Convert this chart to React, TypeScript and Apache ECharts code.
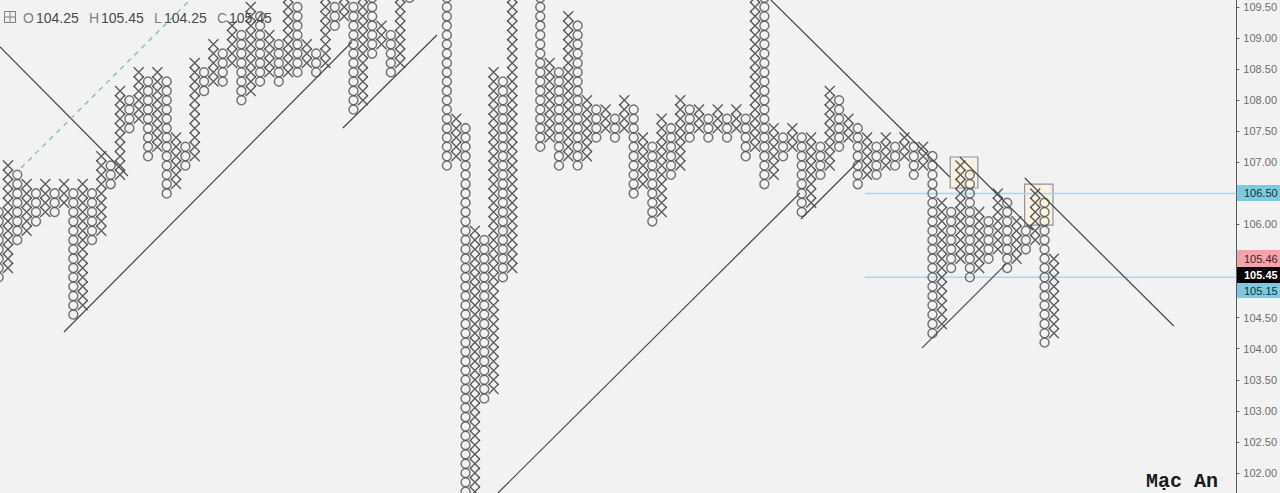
import React, { useEffect, useRef } from "react";
import * as echarts from "echarts";

// Point & figure chart: box size 0.15. Columns alternate O, X, O, X ...
// Each column has a high box and a low box; 0 marks columns wholly above the visible range.
const BOX = 0.15;
const firstColumn = -2;
const columnKinds = ["O", "X"];
const columnHighs = [
  106.2, 106.95, 106.8, 106.65, 106.5, 106.65, 106.5, 106.65, 106.5, 106.65,
  106.5, 107.1, 106.95, 108.15, 108.0, 108.45, 108.3, 108.45, 108.3, 107.4,
  107.25, 108.6, 108.45, 108.9, 108.75, 109.2, 109.05, 109.5, 109.35, 109.05,
  108.9, 110.1, 109.5, 108.9, 108.75, 110.1, 109.5, 110.1, 109.5, 110.1,
  110.1, 109.2, 109.05, 110.1, 110.1, 0, 0, 0, 110.1, 107.7,
  107.55, 105.9, 105.75, 108.45, 108.3, 110.1, 0, 0, 110.1, 108.6,
  108.45, 109.35, 109.2, 108.0, 107.85, 107.85, 107.7, 108.0, 107.85, 107.4,
  107.25, 107.7, 107.55, 108.0, 107.85, 107.85, 107.7, 107.85, 107.7, 107.85,
  107.7, 110.1, 110.1, 107.55, 107.4, 107.55, 107.4, 107.4, 107.25, 108.15,
  108.0, 107.7, 107.55, 107.4, 107.25, 107.4, 107.25, 107.4, 107.25, 107.25,
  107.1, 106.35, 106.2, 106.95, 106.8, 106.2, 106.05, 106.5, 106.35, 106.05,
  105.9, 106.5, 106.35, 105.45,
];
const columnLows = [
  105.15, 105.3, 105.75, 105.9, 106.05, 106.2, 106.2, 106.35, 104.55, 104.7,
  105.75, 105.9, 106.65, 106.8, 107.55, 107.7, 107.1, 107.25, 106.5, 106.65,
  106.95, 107.1, 108.15, 108.3, 108.3, 108.6, 108.0, 108.15, 108.3, 108.45,
  108.3, 108.45, 108.45, 108.6, 108.45, 108.6, 109.2, 109.35, 107.85, 108.0,
  108.75, 108.9, 108.45, 108.6, 109.65, 0, 0, 0, 106.95, 107.1,
  101.7, 101.7, 103.2, 103.35, 105.15, 105.3, 0, 0, 107.25, 107.4,
  106.95, 107.1, 106.95, 107.1, 107.4, 107.55, 107.4, 107.55, 106.5, 106.65,
  106.05, 106.2, 106.8, 106.95, 107.4, 107.55, 107.4, 107.55, 107.4, 107.55,
  107.1, 107.25, 106.65, 106.8, 107.1, 107.25, 106.2, 106.35, 106.8, 106.95,
  107.25, 107.4, 106.65, 106.8, 106.8, 106.95, 106.95, 107.1, 106.8, 106.95,
  104.25, 104.4, 105.3, 105.45, 105.15, 105.3, 105.45, 105.6, 105.3, 105.45,
  105.6, 105.75, 104.1, 104.25,
];

const tickValues = [102, 102.5, 103, 103.5, 104, 104.5, 105, 105.5, 106, 106.5, 107, 107.5, 108, 108.5, 109, 109.5];
// 105.00, 105.50 and 106.50 sit under the price tags
const tickLabelValues = [102, 102.5, 103, 103.5, 104, 104.5, 106, 107, 107.5, 108, 108.5, 109, 109.5];

// Trend lines as [column, price] end points
const trendLines = [
  [[-1.85, 108.856], [11.85, 106.78]],
  [[5.0, 104.27], [35.83, 108.937]],
  [[34.87, 107.552], [44.94, 109.049]],
  [[51.47, 101.678], [83.8, 106.506]],
  [[83.91, 106.088], [90.22, 107.037]],
  [[80.7, 109.613], [99.86, 106.764]],
  [[100.93, 107.086], [108.75, 105.911]],
  [[107.89, 106.748], [123.84, 104.366]],
  [[96.86, 104.011], [105.86, 105.363]],
];
const channelLine = [[0.4, 106.909], [18.49, 109.613]];
const levelLines = [106.5, 105.15];
const levelStartColumn = 90.76;
const highlightBoxes = [
  [[99.9, 107.086], [102.86, 106.587]],
  [[107.87, 106.65], [110.9, 105.99]],
];

const legendItems = [
  { x: 23, label: "O", valueX: 36, value: "104.25" },
  { x: 89, label: "H", valueX: 101, value: "105.45" },
  { x: 154, label: "L", valueX: 164, value: "104.25" },
  { x: 217, label: "C", valueX: 229, value: "105.45" },
];
const priceTags = [
  { top: 185, h: 16, fill: "#7ccadb", color: "#16323a", text: "106.50", bold: false },
  { top: 250, h: 17, fill: "#f4a3aa", color: "#4a2226", text: "105.46", bold: false },
  { top: 267, h: 16, fill: "#050505", color: "#ffffff", text: "105.45", bold: true },
  { top: 283, h: 15, fill: "#7ccadb", color: "#16323a", text: "105.15", bold: false },
];

const xMarks: number[][] = [];
const oMarks: number[][] = [];
columnHighs.forEach((hi, i) => {
  if (hi === 0) return;
  const kind = columnKinds[i % 2];
  const n = Math.round((hi - columnLows[i]) / BOX);
  for (let b = 0; b <= n; b++) {
    const p = columnLows[i] + b * BOX;
    (kind === "X" ? xMarks : oMarks).push([firstColumn + i, p]);
  }
});

const X_SYMBOL = "path://M0 0L10 10M10 0L0 10";
const FONT = "'Liberation Sans', Arial, sans-serif";

export default function App() {
  const ref = useRef<HTMLDivElement>(null);
  useEffect(() => {
    const chart = echarts.init(ref.current!, undefined, { renderer: "svg" });
    const legendGraphics: any[] = [];
    legendItems.forEach((it) => {
      legendGraphics.push({
        type: "text", x: it.x, y: 18, z: 50,
        style: { text: it.label, fill: "#808080", font: `14px ${FONT}`, textVerticalAlign: "middle" },
      });
      legendGraphics.push({
        type: "text", x: it.valueX, y: 18, z: 50,
        style: { text: it.value, fill: "#4a4a4a", font: `14px ${FONT}`, textVerticalAlign: "middle" },
      });
    });
    const tagGraphics: any[] = [];
    priceTags.forEach((t) => {
      tagGraphics.push({
        type: "rect", z: 40,
        shape: { x: 1237, y: t.top, width: 43, height: t.h },
        style: { fill: t.fill },
      });
      tagGraphics.push({
        type: "text", x: 1244, y: t.top + t.h / 2, z: 41,
        style: {
          text: t.text, fill: t.color,
          font: `${t.bold ? "bold " : ""}11px ${FONT}`,
          textVerticalAlign: "middle",
        },
      });
    });
    chart.setOption({
      animation: false,
      backgroundColor: "#f2f2f2",
      grid: { left: 0, top: 0, right: 43.5, bottom: 0 },
      xAxis: {
        type: "value", min: -1.852, max: 130.54, show: false,
        splitLine: { show: false },
      },
      yAxis: {
        type: "value", position: "right", min: 101.678, max: 109.613,
        splitLine: { show: false },
        axisLine: { show: true, onZero: false, lineStyle: { color: "#5a5a5a", width: 1 } },
        axisTick: { show: true, length: 3, customValues: tickValues, lineStyle: { color: "#5a5a5a" } },
        axisLabel: {
          show: true, customValues: tickLabelValues, margin: 7, color: "#6e6e6e",
          fontFamily: "Liberation Sans", fontSize: 11,
          formatter: (v: number) => v.toFixed(2),
        },
      },
      series: [
        {
          type: "scatter", data: [], z: 1, silent: true,
          markArea: {
            silent: true,
            itemStyle: { color: "#faf2e0", borderColor: "#8a93a0", borderWidth: 1.2 },
            data: highlightBoxes.map(([a, b]) => [{ coord: a }, { coord: b }]),
          },
        },
        ...levelLines.map((p) => ({
          type: "line", z: 2, silent: true, showSymbol: false, clip: true,
          lineStyle: { color: "#a9d9e3", width: 1.5 },
          data: [[levelStartColumn, p], [130.54, p]],
        })),
        {
          type: "scatter", name: "O", z: 3, clip: false, silent: true,
          symbol: "circle", symbolSize: 9,
          itemStyle: { color: "transparent", borderColor: "#555555", borderWidth: 1.5 },
          data: oMarks,
        },
        {
          type: "scatter", name: "X", z: 3, clip: false, silent: true,
          symbol: X_SYMBOL, symbolSize: 10,
          itemStyle: { color: "transparent", borderColor: "#383838", borderWidth: 1.4 },
          data: xMarks,
        },
        ...trendLines.map((d) => ({
          type: "line", z: 4, silent: true, showSymbol: false,
          lineStyle: { color: "#484848", width: 1.2 },
          data: d,
        })),
        {
          type: "line", z: 4, silent: true, showSymbol: false,
          lineStyle: { color: "#84bdaa", width: 1.3, type: [5, 5] },
          data: channelLine,
        },
      ],
      graphic: [
        {
          type: "rect", z: 50,
          shape: { x: 4.5, y: 11.5, width: 11, height: 11 },
          style: { fill: "transparent", stroke: "#808080", lineWidth: 1 },
        },
        { type: "line", z: 50, shape: { x1: 10, y1: 11.5, x2: 10, y2: 22.5 }, style: { stroke: "#808080", lineWidth: 1 } },
        { type: "line", z: 50, shape: { x1: 4.5, y1: 17, x2: 15.5, y2: 17 }, style: { stroke: "#808080", lineWidth: 1 } },
        ...legendGraphics,
        ...tagGraphics,
        {
          type: "text", x: 1146, y: 481, z: 50,
          style: {
            text: "Mạc An", fill: "#1a1a1a",
            font: "bold 20px 'Liberation Mono', monospace",
            textVerticalAlign: "middle",
          },
        },
      ],
    });
    return () => chart.dispose();
  }, []);
  return (
    <div
      ref={ref}
      style={{ position: "absolute", left: 0, top: 0, width: 1280, height: 493, background: "#f2f2f2" }}
    />
  );
}
